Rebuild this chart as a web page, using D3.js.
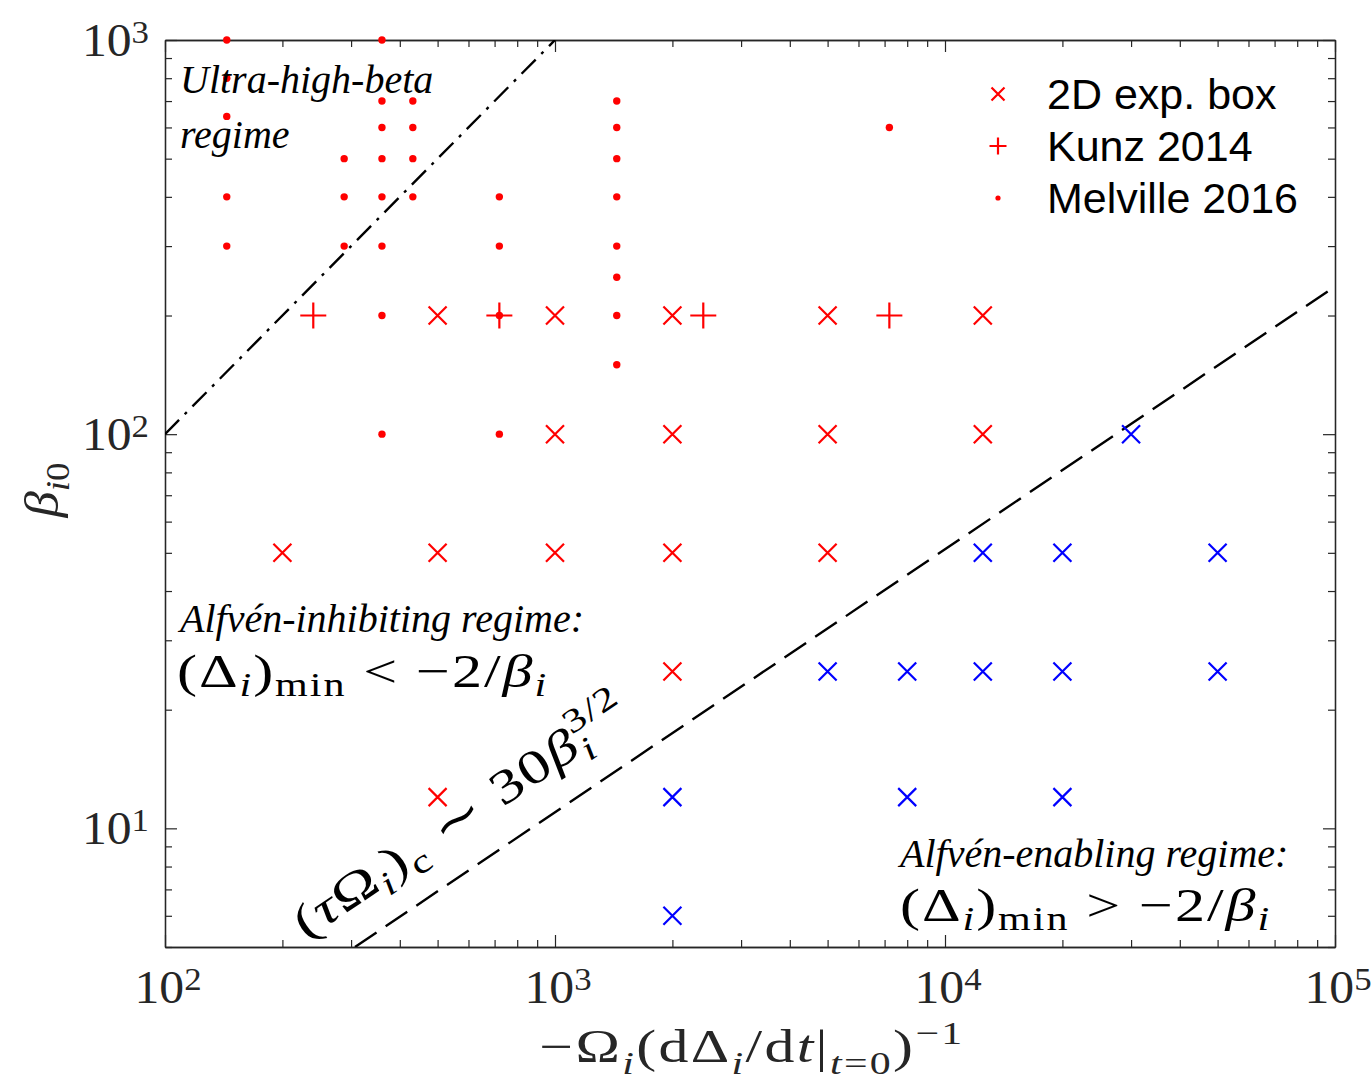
<!DOCTYPE html>
<html>
<head>
<meta charset="utf-8">
<script src="https://cdn.jsdelivr.net/npm/d3@7"></script>
<style>
  html, body { margin: 0; padding: 0; background: #fff; }
  svg { display: block; }
</style>
</head>
<body>
<svg id="chart" width="1372" height="1082"></svg>
<script>
// ---------------- data ----------------
// 2D expanding-box runs, Alfvén-inhibiting (red)
const boxRedX = [500, 1000, 2000, 5000, 12500, 1000, 2000, 5000, 12500, 200, 500, 1000, 2000, 5000, 2000, 500];
const boxRedY = [200, 200, 200, 200, 200, 100, 100, 100, 100, 50, 50, 50, 50, 50, 25, 12];
// 2D expanding-box runs, Alfvén-enabling (blue)
const boxBlueX = [30000, 12500, 20000, 50000, 5000, 8000, 12500, 20000, 50000, 2000, 8000, 20000, 2000];
const boxBlueY = [100, 50, 50, 50, 25, 25, 25, 25, 25, 12, 12, 12, 6];
// Kunz 2014
const kunzX = [240, 720, 2400, 7200];
const kunzY = [200, 200, 200, 200];
// Melville 2016
const melX = [144, 144, 144, 144, 144,
              288, 288, 288,
              360, 360, 360, 360, 360, 360, 360, 360,
              432, 432, 432, 432,
              720, 720, 720, 720,
              1440, 1440, 1440, 1440, 1440, 1440, 1440, 1440,
              7200];
const melY = [1000, 800, 640, 400, 300,
              500, 400, 300,
              1000, 700, 600, 500, 400, 300, 200, 100,
              700, 600, 500, 400,
              400, 300, 200, 100,
              700, 600, 500, 400, 300, 250, 200, 150,
              600];
// reference lines
const ultraLineX = [100, 1000];
const ultraLineY = [100, 1000];
const critLineX = [307, 100000];
const critLineY = [5, 237];
// axes
const xDomain = [100, 100000];
const yDomain = [5, 1000];
const xMajor = [100, 1000, 10000, 100000];
const xMajorExp = ["2", "3", "4", "5"];
const yMajor = [10, 100, 1000];
const yMajorExp = ["1", "2", "3"];
const legendLabels = ["2D exp. box", "Kunz 2014", "Melville 2016"];

// ---------------- layout ----------------
const L = 165, R = 1335, T = 40, B = 947;
const svg = d3.select("#chart");
svg.append("rect").attr("width", 1372).attr("height", 1082).attr("fill", "#fff");

const x = d3.scaleLog().domain(xDomain).range([L, R]);
const y = d3.scaleLog().domain(yDomain).range([B, T]);

const AX = "#262626";
const SERIF = "'Liberation Serif', 'Times New Roman', serif";
const SANS = "'Liberation Sans', Arial, Helvetica, sans-serif";
const RED = "#ff0000", BLUE = "#0000ff";

function minors(domain) {
  const out = [];
  for (let e = Math.floor(Math.log10(domain[0])); e < Math.ceil(Math.log10(domain[1])); e++) {
    for (let k = 2; k <= 9; k++) {
      const v = k * Math.pow(10, e);
      if (v >= domain[0] && v <= domain[1]) out.push(v);
    }
  }
  return out;
}
const xMinor = minors(xDomain);
const yMinor = minors(yDomain);

function drawAxis(gen, transform, values, size) {
  const g = svg.append("g").attr("transform", transform)
    .call(gen.tickValues(values).tickSizeInner(-size).tickSizeOuter(0).tickFormat(""));
  g.select(".domain").attr("stroke", AX).attr("stroke-width", 1.3);
  g.selectAll(".tick line").attr("stroke", AX).attr("stroke-width", 1.2);
  g.selectAll("text").remove();
  return g;
}
drawAxis(d3.axisBottom(x), `translate(0,${B})`, xMajor, 12);
drawAxis(d3.axisBottom(x), `translate(0,${B})`, xMinor, 7);
drawAxis(d3.axisTop(x), `translate(0,${T})`, xMajor, 12);
drawAxis(d3.axisTop(x), `translate(0,${T})`, xMinor, 7);
drawAxis(d3.axisLeft(y), `translate(${L},0)`, yMajor, 12);
drawAxis(d3.axisLeft(y), `translate(${L},0)`, yMinor, 7);
drawAxis(d3.axisRight(y), `translate(${R},0)`, yMajor, 12);
drawAxis(d3.axisRight(y), `translate(${R},0)`, yMinor, 7);

// ---------------- math text helper ----------------
// parts: [text, flags]  flags: i = italic, b = subscript, p = superscript, s = stack over previous
function mathText(parent, px, py, parts, size, o) {
  o = Object.assign({anchor: "start", fill: "#000", sx: 1, sup: 0.4, sub: 0.22, ls: 0}, o || {});
  const g = parent.append("g").attr("transform", `translate(${px},${py}) scale(${o.sx},1)`);
  const t = g.append("text").attr("x", 0).attr("y", 0)
    .attr("font-family", SERIF).attr("font-size", size)
    .attr("letter-spacing", o.ls)
    .attr("text-anchor", o.anchor).attr("fill", o.fill);
  let cur = 0, prevW = 0;
  parts.forEach(([s, f]) => {
    f = f || "";
    let off = 0, fs = size;
    if (f.includes("b")) { off = o.sub * size; fs = 0.7 * size; }
    if (f.includes("p")) { off = -o.sup * size; fs = 0.7 * size; }
    const ts = t.append("tspan").text(s).attr("font-size", fs).attr("dy", off - cur);
    if (f.includes("i")) ts.attr("font-style", "italic");
    if (f.includes("s")) ts.attr("dx", -prevW);
    cur = off;
    prevW = ts.node().getComputedTextLength();
  });
  return g;
}

// tick labels
xMajor.forEach((v, i) => {
  mathText(svg, x(v) + 3, 1003, [["10", ""], [xMajorExp[i], "p"]], 46,
    {anchor: "middle", fill: AX, sx: 1.08, sup: 0.28});
});
yMajor.forEach((v, i) => {
  mathText(svg, 149, y(v) + 16, [["10", ""], [yMajorExp[i], "p"]], 46,
    {anchor: "end", fill: AX, sx: 1.08, sup: 0.28});
});

// axis titles
mathText(svg, 752, 1062, [
  ["\u2212\u03A9", ""], ["i", "ib"], ["(d\u0394", ""], ["i", "ib"], ["/d", ""], ["t", "i"],
  ["|", ""], ["t", "ib"], ["=0", "b"], [")", ""], ["\u22121", "p"]
], 46, {anchor: "middle", fill: AX, sx: 1.3, ls: 1.8, sup: 0.4, sub: 0.25});

const yl = svg.append("g").attr("transform", "translate(58,490) rotate(-90)");
mathText(yl, 0, 0, [["\u03B2", "i"], ["i", "ib"], ["0", "b"]], 48, {anchor: "middle", fill: AX, sx: 1.1});

// ---------------- reference lines ----------------
svg.append("clipPath").attr("id", "plotclip")
  .append("rect").attr("x", L).attr("y", T).attr("width", R - L).attr("height", B - T);
const lineGen = d3.line().x(d => x(d[0])).y(d => y(d[1]));
svg.append("path").datum(ultraLineX.map((v, i) => [v, ultraLineY[i]]))
  .attr("d", lineGen).attr("clip-path", "url(#plotclip)")
  .attr("fill", "none").attr("stroke", "#000").attr("stroke-width", 2.4)
  .attr("stroke-dasharray", "20,8,3,8");
svg.append("path").datum(critLineX.map((v, i) => [v, critLineY[i]]))
  .attr("d", lineGen).attr("clip-path", "url(#plotclip)")
  .attr("fill", "none").attr("stroke", "#000").attr("stroke-width", 2.4)
  .attr("stroke-dasharray", "26,11");

// ---------------- markers ----------------
function crossPath(s) { return `M${-s},${-s}L${s},${s}M${-s},${s}L${s},${-s}`; }
function plusPath(s) { return `M${-s},0H${s}M0,${-s}V${s}`; }

function drawCross(xs, ys, color) {
  svg.append("g").selectAll("path").data(xs.map((v, i) => [v, ys[i]])).join("path")
    .attr("transform", d => `translate(${x(d[0])},${y(d[1])})`)
    .attr("d", crossPath(9)).attr("fill", "none").attr("stroke", color).attr("stroke-width", 2.2);
}
drawCross(boxRedX, boxRedY, RED);
drawCross(boxBlueX, boxBlueY, BLUE);
svg.append("g").selectAll("path").data(kunzX.map((v, i) => [v, kunzY[i]])).join("path")
  .attr("transform", d => `translate(${x(d[0])},${y(d[1])})`)
  .attr("d", plusPath(13)).attr("fill", "none").attr("stroke", RED).attr("stroke-width", 2.2);
svg.append("g").selectAll("circle").data(melX.map((v, i) => [v, melY[i]])).join("circle")
  .attr("cx", d => x(d[0])).attr("cy", d => y(d[1])).attr("r", 3.7).attr("fill", RED);

// ---------------- annotations ----------------
const it = (px, py, s, size) => svg.append("text").attr("x", px).attr("y", py)
  .attr("font-family", SERIF).attr("font-style", "italic").attr("font-size", size).attr("fill", "#000").text(s);
it(180, 93, "Ultra-high-beta", 40);
it(180, 148, "regime", 40);
it(180, 632, "Alfvén-inhibiting regime:", 40);
const relParts = rel => [["(\u0394", ""], ["i", "ib"], [")", ""], ["min", "b"],
  [" " + rel + " \u22122/", ""], ["\u03B2", "i"], ["i", "ib"]];
mathText(svg, 177, 687, relParts("<"), 47, {sx: 1.28, ls: 1.5, sub: 0.2});
it(900, 867, "Alfvén-enabling regime:", 40);
mathText(svg, 900, 921, relParts(">"), 47, {sx: 1.28, ls: 1.5, sub: 0.2});

const rot = svg.append("g").attr("transform", "translate(306,940) rotate(-34)");
mathText(rot, 0, 0, [["(", ""], ["\u03C4", "i"], ["\u03A9", ""], ["i", "ib"], [")", ""], ["c", "b"],
  [" \u223C 30", ""], ["\u03B2", "i"], ["i", "ib"], ["3/2", "ps"]], 48, {sx: 1.3, ls: 1, sup: 0.45, sub: 0.22});

// ---------------- legend ----------------
const legX = 998, legY = [94, 146, 198];
const lg = svg.append("g");
lg.append("path").attr("transform", `translate(${legX},${legY[0]})`).attr("d", crossPath(6.5))
  .attr("fill", "none").attr("stroke", RED).attr("stroke-width", 2.2);
lg.append("path").attr("transform", `translate(${legX},${legY[1]})`).attr("d", plusPath(8.5))
  .attr("fill", "none").attr("stroke", RED).attr("stroke-width", 2.2);
lg.append("circle").attr("cx", legX).attr("cy", legY[2]).attr("r", 2.6).attr("fill", RED);
legendLabels.forEach((s, i) => {
  lg.append("text").attr("x", 1047).attr("y", legY[i] + 15)
    .attr("font-family", SANS).attr("font-size", 43).attr("fill", "#000").text(s);
});
</script>
</body>
</html>
